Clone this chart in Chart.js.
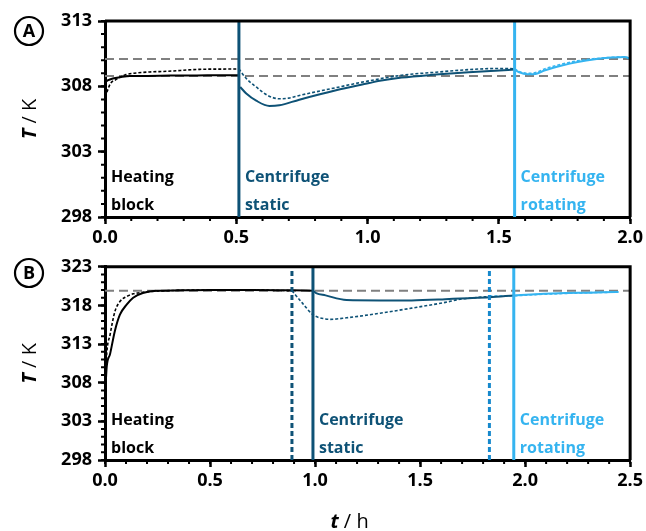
<!DOCTYPE html>
<html>
<head>
<meta charset="utf-8">
<script src="https://cdn.jsdelivr.net/npm/chart.js@4"></script>
<style>
  body { margin: 0; background: #fff; }
  #wrap { position: relative; width: 646px; height: 531px; }
  canvas { position: absolute; left: 0; }
</style>
</head>
<body>
<div id="wrap">
  <canvas id="chartA" width="646" height="250" style="top:0"></canvas>
  <canvas id="chartB" width="646" height="281" style="top:250px"></canvas>
</div>
<script>
/* global Chart */

const BLACK = '#000000';
const DARK = '#0e5276';
const LIGHT = '#35b4f0';
const MID = '#1688cc';
const GREY = '#808080';
const FONT = "'Open Sans', 'DejaVu Sans', sans-serif";

// ---- panel A ----
const A_X_TICKS = [0, 0.5, 1, 1.5, 2];
const A_Y_TICKS = [298, 303, 308, 313];
const A_REF_T = [310.1, 308.8];
const A_SWITCH = [0.51, 1.56];

const A_HEAT_T       = [0, 0.01, 0.03, 0.057, 0.095, 0.15, 0.25, 0.35, 0.45, 0.51];
const A_HEAT_SOLID   = [308.3, 308.45, 308.6, 308.7, 308.8, 308.8, 308.82, 308.83, 308.85, 308.85];
const A_HEATD_T      = [0, 0.01, 0.02, 0.04, 0.057, 0.08, 0.11, 0.17, 0.235, 0.36, 0.45, 0.51];
const A_HEAT_DOTTED  = [307.2, 307.7, 308.2, 308.5, 308.7, 308.9, 309.0, 309.1, 309.15, 309.3, 309.32, 309.33];

const A_STAT_T       = [0.515, 0.538, 0.576, 0.626, 0.664, 0.74, 0.88, 1.006, 1.04, 1.13, 1.26, 1.385, 1.487, 1.56];
const A_STAT_SOLID   = [307.95, 307.45, 306.9, 306.5, 306.55, 306.98, 307.7, 308.25, 308.4, 308.67, 308.9, 309.08, 309.2, 309.28];
const A_STATD_T      = [0.51, 0.538, 0.576, 0.62, 0.664, 0.70, 0.74, 0.88, 1.0, 1.13, 1.26, 1.385, 1.487, 1.56];
const A_STAT_DOTTED  = [309.33, 308.6, 307.95, 307.3, 307.05, 307.1, 307.3, 307.9, 308.4, 308.85, 309.08, 309.28, 309.36, 309.35];

const A_ROT_T        = [1.56, 1.575, 1.61, 1.64, 1.676, 1.74, 1.80, 1.866, 1.93, 1.98, 2.0];
const A_ROT_SOLID    = [309.28, 309.1, 308.92, 308.95, 309.23, 309.6, 309.87, 310.08, 310.2, 310.25, 310.1];
const A_ROT_DOTTED   = [309.35, 309.15, 309.0, 309.05, 309.35, 309.7, 309.95, 310.12, 310.22, 310.25, 310.15];

// ---- panel B ----
const B_X_TICKS = [0, 0.5, 1, 1.5, 2, 2.5];
const B_Y_TICKS = [298, 303, 308, 313, 318, 323];
const B_REF_T = [319.9];
const B_SWITCH = [0.99, 1.946];
const B_SWITCH_DOTTED = [0.89, 1.83];

const B_HEAT_T       = [0, 0.008, 0.024, 0.047, 0.071, 0.103, 0.134, 0.18, 0.245, 0.35, 0.5, 0.7, 0.89, 0.99];
const B_HEAT_SOLID   = [306, 310.0, 311.7, 314.7, 316.8, 318.1, 319.0, 319.6, 319.9, 319.95, 320.0, 320.0, 319.95, 319.9];
const B_HEATD_T      = [0, 0.008, 0.024, 0.047, 0.071, 0.103, 0.134, 0.18, 0.245, 0.35, 0.5, 0.7, 0.89];
const B_HEAT_DOTTED  = [307, 311.7, 314.2, 317.2, 318.5, 319.15, 319.5, 319.7, 319.85, 319.95, 320.0, 320.0, 319.9];

const B_STAT_T       = [0.99, 1.005, 1.05, 1.15, 1.31, 1.46, 1.62, 1.69, 1.83, 1.946];
const B_STAT_SOLID   = [319.9, 319.6, 319.3, 318.7, 318.65, 318.65, 318.8, 318.9, 319.05, 319.3];
const B_STATD_T      = [0.89, 0.94, 0.99, 1.05, 1.07, 1.15, 1.31, 1.46, 1.62, 1.69, 1.76, 1.83];
const B_STAT_DOTTED  = [319.9, 318.3, 316.8, 316.25, 316.2, 316.4, 317.0, 317.65, 318.4, 318.8, 319.0, 319.15];

const B_ROT_T        = [1.946, 2.05, 2.19, 2.3, 2.37, 2.445];
const B_ROT_SOLID    = [319.3, 319.45, 319.6, 319.65, 319.7, 319.75];
const B_ROTD_T       = [1.83, 1.946, 2.05, 2.19, 2.3, 2.445];
const B_ROT_DOTTED   = [319.2, 319.25, 319.4, 319.55, 319.65, 319.72];

const pts = (t, v) => t.map((x, i) => ({ x, y: v[i] }));

function curve(data, color, dotted) {
    return {
        data,
        borderColor: color,
        borderWidth: dotted ? 1.6 : 2,
        borderDash: dotted ? [3, 2] : [],
        pointRadius: 0,
        cubicInterpolationMode: 'monotone',
        order: 1,
    };
}

function vline(x, yMin, yMax, color, dashed) {
    return {
        data: [{ x, y: yMin }, { x, y: yMax }],
        borderColor: color,
        borderWidth: 3,
        borderDash: dashed ? [5, 3] : [],
        pointRadius: 0,
        order: 0,
    };
}

function hline(y, xMin, xMax) {
    return {
        data: [{ x: xMin, y }, { x: xMax, y }],
        borderColor: GREY,
        borderWidth: 2,
        borderDash: [9, 5],
        pointRadius: 0,
        order: 2,
    };
}

// frame, minor ticks, text labels, panel letter, axis titles
const decoPlugin = {
    id: 'deco',
    afterDraw(chart, args, opts) {
        const { ctx, chartArea: a, scales: { x, y } } = chart;
        ctx.save();
        ctx.strokeStyle = BLACK;
        ctx.lineWidth = 3;
        ctx.beginPath();
        ctx.moveTo(a.left, a.top);
        ctx.lineTo(a.right, a.top);
        ctx.lineTo(a.right, a.bottom);
        ctx.stroke();

        // minor ticks
        ctx.lineWidth = 2;
        ctx.beginPath();
        for (let v = x.min; v <= x.max + 1e-9; v += 0.1) {
            const px = x.getPixelForValue(v);
            ctx.moveTo(px, a.bottom);
            ctx.lineTo(px, a.bottom + 4);
        }
        for (let v = y.min; v <= y.max + 1e-9; v += 1) {
            const py = y.getPixelForValue(v);
            ctx.moveTo(a.left, py);
            ctx.lineTo(a.left - 4, py);
        }
        ctx.stroke();

        // region labels
        ctx.font = `bold 16px ${FONT}`;
        ctx.textAlign = 'left';
        ctx.textBaseline = 'alphabetic';
        opts.labels.forEach(l => {
            const px = x.getPixelForValue(l.x) + 6;
            ctx.fillStyle = l.color;
            ctx.fillText(l.lines[0], px, a.bottom - 35);
            ctx.fillText(l.lines[1], px, a.bottom - 7);
        });

        // circled letter
        ctx.lineWidth = 2.2;
        ctx.beginPath();
        ctx.arc(29, opts.letterY, 14, 0, Math.PI * 2);
        ctx.stroke();
        ctx.fillStyle = BLACK;
        ctx.font = `bold 18px ${FONT}`;
        ctx.textAlign = 'center';
        ctx.textBaseline = 'middle';
        ctx.fillText(opts.letter, 29, opts.letterY + 1);

        // y title "T / K"
        ctx.save();
        ctx.translate(30, (a.top + a.bottom) / 2);
        ctx.rotate(-Math.PI / 2);
        drawTitle(ctx, 'T', ' / K', 0, 0);
        ctx.restore();

        if (opts.xTitle) drawTitle(ctx, 't', ' / h', (a.left + a.right) / 2 - 18, opts.xTitleY);
        ctx.restore();
    }
};

function drawTitle(ctx, sym, rest, cx, cy) {
    ctx.textBaseline = 'middle';
    ctx.textAlign = 'left';
    ctx.font = `italic bold 20px ${FONT}`;
    const w1 = ctx.measureText(sym).width;
    ctx.font = `20px ${FONT}`;
    const w2 = ctx.measureText(rest).width;
    const x0 = cx - (w1 + w2) / 2;
    ctx.fillStyle = BLACK;
    ctx.font = `italic bold 20px ${FONT}`;
    ctx.fillText(sym, x0, cy);
    ctx.font = `20px ${FONT}`;
    ctx.fillText(rest, x0 + w1, cy);
}

function axisOpts(min, max, ticks, isX, size) {
    return {
        type: 'linear',
        min, max,
        afterBuildTicks: s => { s.ticks = ticks.map(v => ({ value: v })); },
        afterFit: s => { if (isX) s.height = size; else s.width = size; },
        grid: { drawOnChartArea: false, drawTicks: true, tickLength: 7, tickWidth: 2.5, tickColor: BLACK, color: BLACK },
        border: { display: true, width: 3, color: BLACK },
        ticks: {
            color: BLACK,
            font: { family: FONT, weight: 'bold', size: 18 },
            padding: isX ? 3 : 6,
            maxRotation: 0,
            autoSkip: false,
            callback: v => isX ? v.toFixed(1) : String(v),
        },
    };
}

function makePanel(id, p) {
    return new Chart(document.getElementById(id), {
        type: 'line',
        data: { datasets: p.datasets },
        options: {
            responsive: false,
            animation: false,
            layout: { padding: { left: 0, right: 14, top: p.top, bottom: 0 } },
            plugins: {
                legend: { display: false },
                tooltip: { enabled: false },
                deco: p.deco,
            },
            scales: {
                x: axisOpts(p.xMin, p.xMax, p.xTicks, true, p.xAxisH),
                y: axisOpts(p.yMin, p.yMax, p.yTicks, false, 105),
            },
        },
        plugins: [decoPlugin],
    });
}

makePanel('chartA', {
    top: 21, xAxisH: 33,
    xMin: 0, xMax: 2, yMin: 298, yMax: 313,
    xTicks: A_X_TICKS, yTicks: A_Y_TICKS,
    datasets: [
        ...A_REF_T.map(v => hline(v, 0, 2)),
        curve(pts(A_HEAT_T, A_HEAT_SOLID), BLACK, false),
        curve(pts(A_HEATD_T, A_HEAT_DOTTED), BLACK, true),
        curve(pts(A_STAT_T, A_STAT_SOLID), DARK, false),
        curve(pts(A_STATD_T, A_STAT_DOTTED), DARK, true),
        curve(pts(A_ROT_T, A_ROT_SOLID), LIGHT, false),
        curve(pts(A_ROT_T, A_ROT_DOTTED), LIGHT, true),
        vline(A_SWITCH[0], 298, 313, DARK, false),
        vline(A_SWITCH[1], 298, 313, LIGHT, false),
    ],
    deco: {
        letter: 'A', letterY: 31,
        labels: [
            { lines: ['Heating', 'block'], x: 0, color: BLACK },
            { lines: ['Centrifuge', 'static'], x: A_SWITCH[0], color: DARK },
            { lines: ['Centrifuge', 'rotating'], x: A_SWITCH[1], color: LIGHT },
        ],
    },
});

makePanel('chartB', {
    top: 15, xAxisH: 71,
    xMin: 0, xMax: 2.5, yMin: 298, yMax: 323,
    xTicks: B_X_TICKS, yTicks: B_Y_TICKS,
    datasets: [
        ...B_REF_T.map(v => hline(v, 0, 2.5)),
        curve(pts(B_HEAT_T, B_HEAT_SOLID), BLACK, false),
        curve(pts(B_HEATD_T, B_HEAT_DOTTED), BLACK, true),
        curve(pts(B_STAT_T, B_STAT_SOLID), DARK, false),
        curve(pts(B_STATD_T, B_STAT_DOTTED), DARK, true),
        curve(pts(B_ROT_T, B_ROT_SOLID), LIGHT, false),
        curve(pts(B_ROTD_T, B_ROT_DOTTED), LIGHT, true),
        vline(B_SWITCH_DOTTED[0], 298, 323, DARK, true),
        vline(B_SWITCH[0], 298, 323, DARK, false),
        vline(B_SWITCH_DOTTED[1], 298, 323, MID, true),
        vline(B_SWITCH[1], 298, 323, LIGHT, false),
    ],
    deco: {
        letter: 'B', letterY: 23, xTitle: true, xTitleY: 272,
        labels: [
            { lines: ['Heating', 'block'], x: 0, color: BLACK },
            { lines: ['Centrifuge', 'static'], x: B_SWITCH[0], color: DARK },
            { lines: ['Centrifuge', 'rotating'], x: B_SWITCH[1], color: LIGHT },
        ],
    },
});
</script>
</body>
</html>
